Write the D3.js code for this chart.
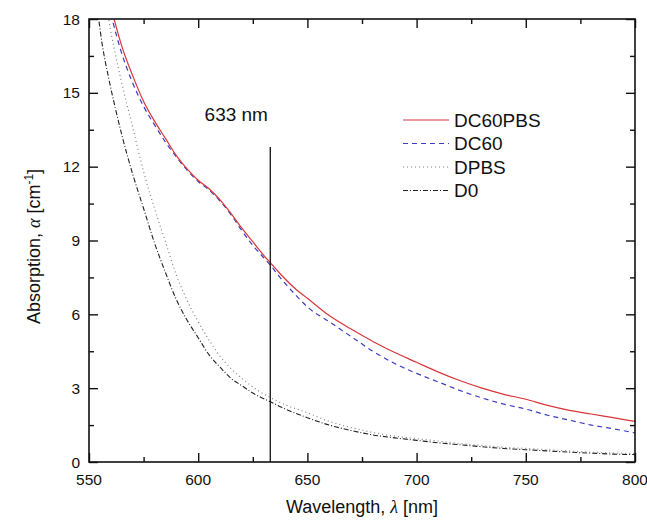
<!DOCTYPE html>
<html>
<head>
<meta charset="utf-8">
<script src="https://cdn.jsdelivr.net/npm/d3@7"></script>
<style>
  body { margin: 0; background: #fff; }
  text { font-family: "Liberation Sans", Arial, sans-serif; fill: #111; }
</style>
</head>
<body>
<script>
var w = 647;
var h = 521;
var margin = {top: 19, right: 12, bottom: 59, left: 89};

// wavelength (nm) and absorption (cm^-1)
var dc60pbsX = [560, 565, 570, 575, 580, 585, 590, 595, 600, 605, 610, 615, 620, 625, 630, 633, 637, 645, 650, 660, 670, 680, 690, 700, 710, 720, 730, 740, 750, 760, 770, 780, 790, 800];
var dc60pbsY = [18.5, 16.9, 15.7, 14.65, 13.85, 13.15, 12.45, 11.9, 11.45, 11.1, 10.65, 10.1, 9.5, 8.95, 8.4, 8.1, 7.7, 7.0, 6.65, 5.95, 5.4, 4.9, 4.45, 4.05, 3.65, 3.3, 3.0, 2.75, 2.55, 2.3, 2.1, 1.95, 1.8, 1.65];

var dc60X = [560, 565, 570, 575, 580, 585, 590, 595, 600, 605, 610, 615, 620, 625, 630, 633, 637, 645, 650, 660, 670, 680, 690, 700, 710, 720, 730, 740, 750, 760, 770, 780, 790, 800];
var dc60Y = [18.2, 16.6, 15.4, 14.45, 13.7, 13.0, 12.4, 11.85, 11.4, 11.05, 10.6, 10.05, 9.4, 8.8, 8.3, 8.0, 7.55, 6.75, 6.3, 5.7, 5.1, 4.5, 4.0, 3.6, 3.25, 2.9, 2.6, 2.35, 2.15, 1.9, 1.7, 1.5, 1.35, 1.18];

var dpbsX = [558, 559, 562, 565, 570, 575, 580, 585, 590, 595, 600, 605, 610, 615, 620, 625, 633, 640, 650, 660, 670, 680, 690, 700, 710, 720, 730, 740, 750, 760, 770, 780, 790, 800];
var dpbsY = [18.6, 18.0, 16.6, 15.4, 13.6, 11.8, 10.3, 8.95, 7.6, 6.55, 5.7, 4.95, 4.3, 3.8, 3.4, 3.05, 2.62, 2.32, 2.0, 1.65, 1.4, 1.2, 1.05, 0.95, 0.85, 0.75, 0.67, 0.6, 0.55, 0.5, 0.45, 0.4, 0.37, 0.34];

var d0X = [554, 556, 559, 562, 565, 570, 575, 580, 585, 590, 595, 600, 605, 610, 615, 620, 625, 633, 640, 650, 660, 670, 680, 690, 700, 710, 720, 730, 740, 750, 760, 770, 780, 790, 800];
var d0Y = [18.3, 17.0, 15.6, 14.4, 13.3, 11.7, 10.3, 8.9, 7.7, 6.6, 5.75, 5.05, 4.35, 3.85, 3.4, 3.1, 2.8, 2.45, 2.15, 1.8, 1.5, 1.28, 1.1, 0.98, 0.88, 0.78, 0.7, 0.62, 0.55, 0.5, 0.45, 0.4, 0.36, 0.32, 0.3];

var seriesNames = ["DC60PBS", "DC60", "DPBS", "D0"];
var xTicks = [550, 600, 650, 700, 750, 800];
var yTicks = [0, 3, 6, 9, 12, 15, 18];
var markerWavelength = 633;

var series = [
  {name: seriesNames[0], xs: dc60pbsX, ys: dc60pbsY, color: "#d9363a", dash: null, width: 1.2},
  {name: seriesNames[1], xs: dc60X, ys: dc60Y, color: "#3c3cc0", dash: "5,4", width: 1.2},
  {name: seriesNames[2], xs: dpbsX, ys: dpbsY, color: "#7d877d", dash: "1,3", width: 1.2},
  {name: seriesNames[3], xs: d0X, ys: d0Y, color: "#222", dash: "5,2,1,2", width: 1.1}
];

var xScale = d3.scaleLinear()
  .domain([550, 800])
  .range([margin.left, w - margin.right]);

var yScale = d3.scaleLinear()
  .domain([0, 18])
  .range([h - margin.bottom, margin.top]);

var svg = d3.select("body")
  .append("svg")
  .attr("width", w)
  .attr("height", h);

svg.append("clipPath")
  .attr("id", "plot")
  .append("rect")
  .attr("x", margin.left)
  .attr("y", margin.top)
  .attr("width", w - margin.left - margin.right)
  .attr("height", h - margin.top - margin.bottom);

// curves
var line = d3.line()
  .x(function(d) { return xScale(d[0]); })
  .y(function(d) { return yScale(d[1]); })
  .curve(d3.curveMonotoneX);

series.slice().reverse().forEach(function(s) {
  svg.append("path")
    .datum(d3.zip(s.xs, s.ys))
    .attr("clip-path", "url(#plot)")
    .attr("fill", "none")
    .attr("stroke", s.color)
    .attr("stroke-width", s.width)
    .attr("stroke-dasharray", s.dash)
    .attr("d", line);
});

// 633 nm marker
svg.append("line")
  .attr("x1", xScale(markerWavelength))
  .attr("x2", xScale(markerWavelength))
  .attr("y1", 147)
  .attr("y2", yScale(0))
  .attr("stroke", "#111")
  .attr("stroke-width", 1.3);

svg.append("text")
  .attr("x", xScale(markerWavelength) - 34)
  .attr("y", 121)
  .attr("text-anchor", "middle")
  .style("font-size", "19px")
  .text(markerWavelength + " nm");

// axes with inward ticks on all four sides
var xMinor = d3.range(575, 800, 50);
var yMinor = d3.range(1.5, 18, 3);

var axisBottomG = svg.append("g").attr("transform", "translate(0," + yScale(0) + ")");
axisBottomG.append("g").call(d3.axisTop(xScale).tickValues(xTicks).tickSize(9).tickFormat(""));
axisBottomG.append("g").call(d3.axisTop(xScale).tickValues(xMinor).tickSize(5).tickFormat(""));
xTicks.forEach(function(t) {
  axisBottomG.append("text")
    .attr("x", xScale(t))
    .attr("y", 23)
    .attr("text-anchor", "middle")
    .style("font-size", "15.5px")
    .text(t);
});

var axisTopG = svg.append("g").attr("transform", "translate(0," + yScale(18) + ")");
axisTopG.append("g").call(d3.axisBottom(xScale).tickValues(xTicks).tickSize(9).tickFormat(""));
axisTopG.append("g").call(d3.axisBottom(xScale).tickValues(xMinor).tickSize(5).tickFormat(""));

var axisLeftG = svg.append("g").attr("transform", "translate(" + xScale(550) + ",0)");
axisLeftG.append("g").call(d3.axisRight(yScale).tickValues(yTicks).tickSize(9).tickFormat(""));
axisLeftG.append("g").call(d3.axisRight(yScale).tickValues(yMinor).tickSize(5).tickFormat(""));
yTicks.forEach(function(t) {
  axisLeftG.append("text")
    .attr("x", -9)
    .attr("y", yScale(t) + 5.5)
    .attr("text-anchor", "end")
    .style("font-size", "15.5px")
    .text(t);
});

var axisRightG = svg.append("g").attr("transform", "translate(" + xScale(800) + ",0)");
axisRightG.append("g").call(d3.axisLeft(yScale).tickValues(yTicks).tickSize(9).tickFormat(""));
axisRightG.append("g").call(d3.axisLeft(yScale).tickValues(yMinor).tickSize(5).tickFormat(""));

svg.selectAll(".domain").remove();
svg.selectAll(".tick line").attr("stroke", "#111").attr("stroke-width", 1.4);

// frame
svg.append("rect")
  .attr("x", xScale(550))
  .attr("y", yScale(18))
  .attr("width", xScale(800) - xScale(550))
  .attr("height", yScale(0) - yScale(18))
  .attr("fill", "none")
  .attr("stroke", "#111")
  .attr("stroke-width", 1.6);

// legend
var legend = svg.append("g").attr("transform", "translate(403,120)");
series.forEach(function(s, i) {
  legend.append("line")
    .attr("x1", 0)
    .attr("x2", 46)
    .attr("y1", i * 23.5)
    .attr("y2", i * 23.5)
    .attr("stroke", s.color)
    .attr("stroke-width", s.width)
    .attr("stroke-dasharray", s.dash);
  legend.append("text")
    .attr("x", 51)
    .attr("y", i * 23.5 + 6.5)
    .style("font-size", "19px")
    .text(s.name);
});

// axis titles
var xTitle = svg.append("text")
  .attr("x", (xScale(550) + xScale(800)) / 2)
  .attr("y", 513)
  .attr("text-anchor", "middle")
  .style("font-size", "18px");
xTitle.append("tspan").text("Wavelength, ");
xTitle.append("tspan").style("font-family", "'Liberation Serif', serif").style("font-style", "italic").text("λ");
xTitle.append("tspan").text(" [nm]");

var yTitle = svg.append("text")
  .attr("transform", "translate(40," + ((yScale(0) + yScale(18)) / 2 + 6) + ") rotate(-90)")
  .attr("text-anchor", "middle")
  .style("font-size", "18px");
yTitle.append("tspan").text("Absorption, ");
yTitle.append("tspan").style("font-family", "'Liberation Serif', serif").style("font-style", "italic").text("α");
yTitle.append("tspan").text(" [cm");
yTitle.append("tspan").style("font-size", "12px").attr("dy", -7).text("-1");
yTitle.append("tspan").attr("dy", 7).text("]");
</script>
</body>
</html>
